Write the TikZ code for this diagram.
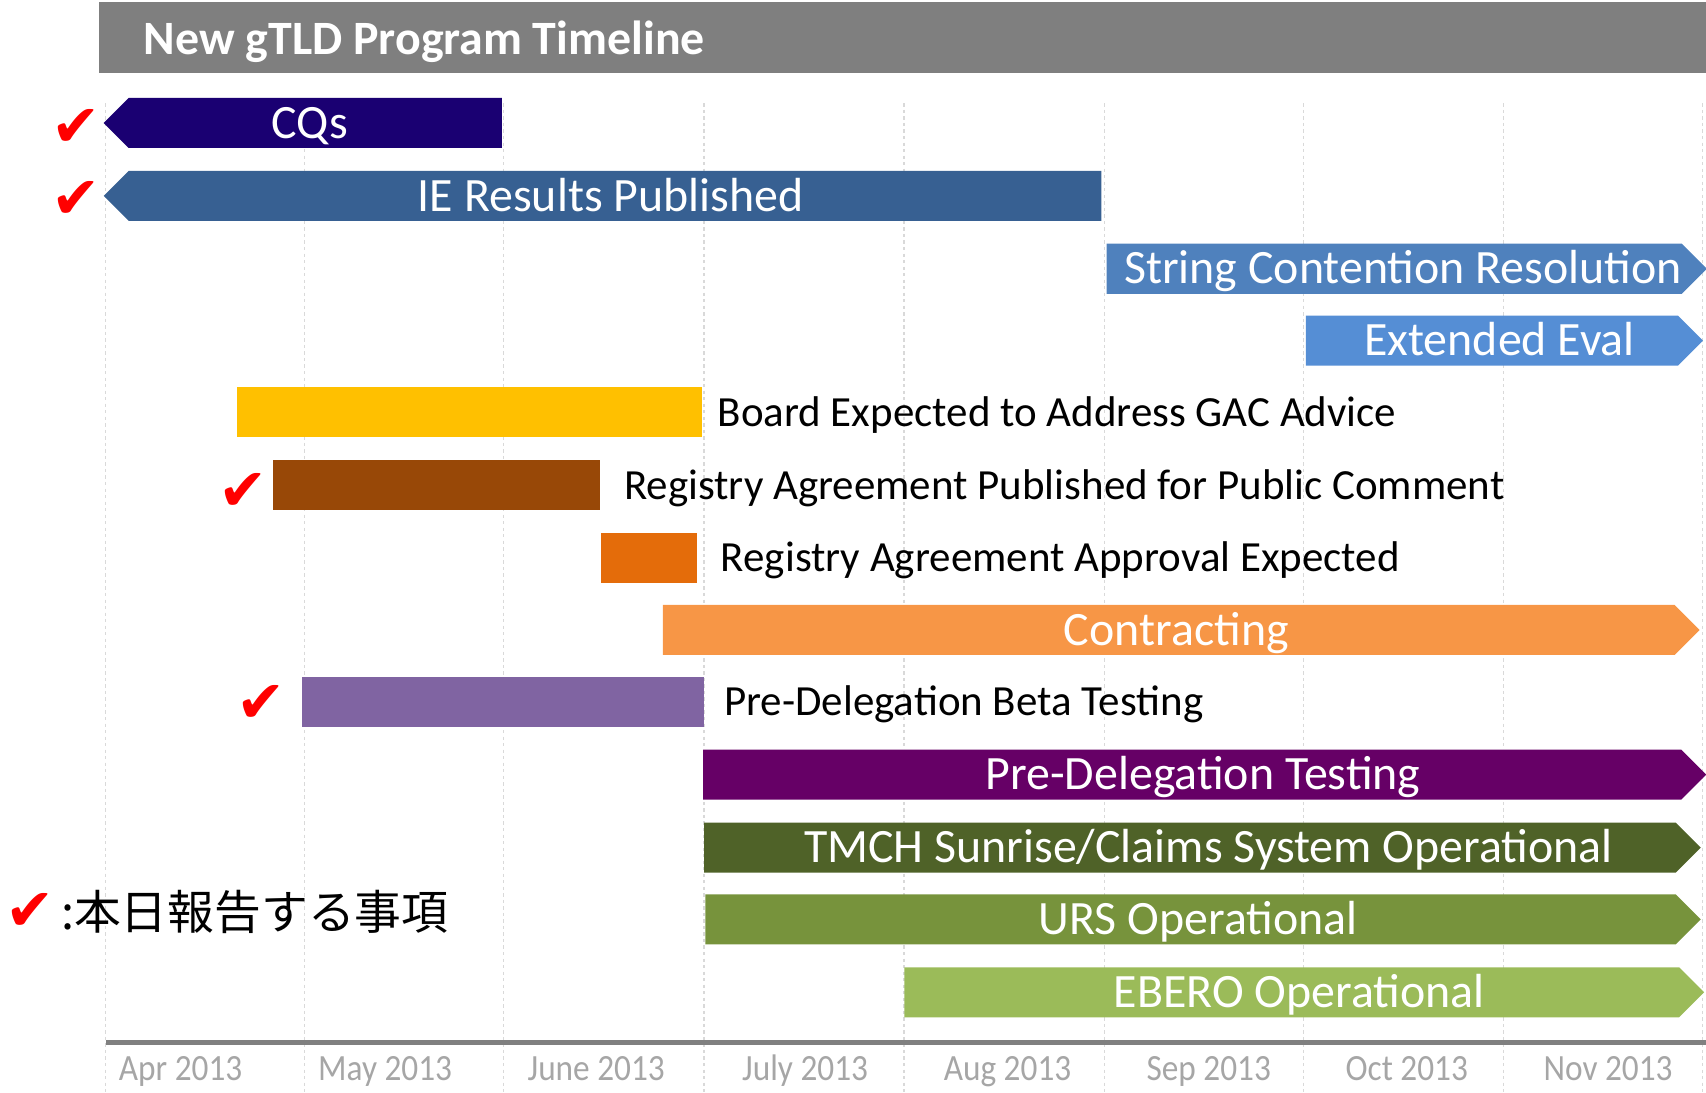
\documentclass[tikz,border=0pt]{standalone}
\usepackage{fontspec}
\setmainfont{Carlito}
\newfontfamily\symfont{DejaVu Sans}
\newfontfamily\jpfont{Noto Sans CJK JP}
\newfontfamily\axisfont[FakeStretch=0.9]{Carlito}
\usetikzlibrary{shapes.symbols, positioning}

\definecolor{titlegray}{HTML}{7F7F7F}
\definecolor{cqcol}{HTML}{1A0072}
\definecolor{iecol}{HTML}{376092}
\definecolor{sccol}{HTML}{4F81BD}
\definecolor{eecol}{HTML}{558ED5}
\definecolor{boardcol}{HTML}{FFC000}
\definecolor{rapubcol}{HTML}{984807}
\definecolor{raappcol}{HTML}{E46C0A}
\definecolor{contcol}{HTML}{F79646}
\definecolor{betacol}{HTML}{8064A2}
\definecolor{pdtcol}{HTML}{660066}
\definecolor{tmchcol}{HTML}{4F6228}
\definecolor{urscol}{HTML}{77933C}
\definecolor{eberocol}{HTML}{9BBB59}

\newcommand{\pad}[1]{\hspace*{#1pt}}

\begin{document}
\begin{tikzpicture}[x=1pt,y=-1pt,
bar/.style={signal, signal pointer angle=90, minimum height=46pt, inner sep=0pt, anchor=west, text=white, text height=28pt, text depth=0pt, font=\fontsize{44}{46}\selectfont},
box/.style={rectangle, minimum height=46pt, inner sep=0pt, anchor=west},
lbl/.style={inner sep=0pt, text height=25.4pt, text depth=0pt, font=\fontsize{39.5}{42}\selectfont},
chk/.style={text=red, inner sep=0pt, font=\symfont\fontsize{54}{56}\selectfont},
gridline/.style={draw=black!15, dashed, line width=1.2pt},
month/.style={text=black!35, inner sep=0pt, anchor=base, font=\axisfont\fontsize{34}{36}\selectfont}]
\useasboundingbox (0,0) rectangle (1568,1004);

% title
\node[rectangle, fill=titlegray, minimum width=1477pt, minimum height=65pt, inner sep=0pt, anchor=north west] (head) at (91,2) {};
\node[anchor=west, inner sep=0pt, text=white, text height=28pt, text depth=0pt, font=\bfseries\fontsize{44}{46}\selectfont] (title) at (132,36) {New gTLD Program Timeline};

% month grid and axis
\foreach \x in {97,280,463,647,831,1015,1198,1382,1565}
  \draw[gridline] (\x,95) -- (\x,1004);
\draw[black!50, line width=5pt] (97,958) -- (1568,958);
\foreach \x/\m in {166/Apr 2013, 354/May 2013, 548/June 2013, 740/July 2013, 926/Aug 2013, 1111/Sep 2013, 1293/Oct 2013, 1478/Nov 2013}
  \node[month] at (\x,993) {\m};

% bars (\pad nudges the text off centre as in the slide)
\node[bar, signal to=west, fill=cqcol, minimum width=366pt] (cqs) at (95,113) {CQs\pad{10}};
\node[bar, signal to=west, fill=iecol, minimum width=917pt] (ie) at (95,180) {IE Results Published\pad{8}};
\node[bar, signal to=east, fill=sccol, minimum width=548pt] (scr) at (1017,247) {\pad{16}String Contention Resolution};
\node[bar, signal to=east, fill=eecol, minimum width=365pt] (ee) at (1200,313) {\pad{14}Extended Eval};
\node[box, fill=boardcol, minimum width=427pt] (board) at (218,379) {};
\node[box, fill=rapubcol, minimum width=300pt] (rapub) at (251,446) {};
\node[box, fill=raappcol, minimum width=88pt] (raapp) at (552,513) {};
\node[bar, signal to=east, fill=contcol, minimum width=953pt] (cont) at (609,579) {\pad{14}Contracting};
\node[box, fill=betacol, minimum width=370pt] (beta) at (277,645) {};
\node[bar, signal to=east, fill=pdtcol, minimum width=922pt] (pdt) at (646,712) {\pad{20}Pre-Delegation Testing};
\node[bar, signal to=east, fill=tmchcol, minimum width=916pt] (tmch) at (647,779) {\pad{34}TMCH Sunrise/Claims System Operational};
\node[bar, signal to=east, fill=urscol, minimum width=915pt] (urs) at (648,845) {\pad{14}URS Operational};
\node[bar, signal to=east, fill=eberocol, minimum width=735pt] (ebero) at (831,912) {\pad{14}EBERO Operational};

% labels beside the plain boxes
\node[lbl, right=14pt of board, anchor=west] (boardlbl) {Board Expected to Address GAC Advice};
\node[lbl, right=22pt of rapub, anchor=west] (rapublbl) {Registry Agreement Published for Public Comment};
\node[lbl, right=22pt of raapp, anchor=west] (raapplbl) {Registry Agreement Approval Expected};
\node[lbl, right=18pt of beta, anchor=west] (betalbl) {Pre-Delegation Beta Testing};

% check marks
\node[chk] (chkcqs) at (70,118) {✔};
\node[chk] (chkie) at (70,184) {✔};
\node[chk] (chkrapub) at (223,452) {✔};
\node[chk] (chkbeta) at (240,647) {✔};

% legend
\node[chk] (chkkey) at (28,838) {✔};
\node[anchor=west, inner sep=0pt, font=\jpfont\fontsize{43}{45}\selectfont] (keylbl) at (56,838) {:本日報告する事項};

\end{tikzpicture}
\end{document}
